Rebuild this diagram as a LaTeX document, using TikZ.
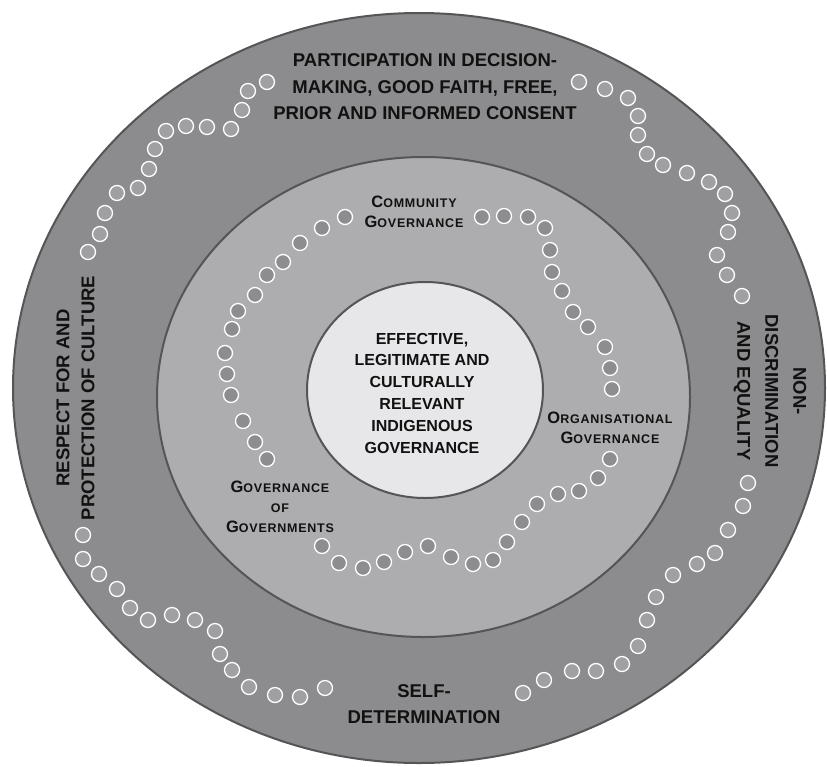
\documentclass[tikz,border=0pt]{standalone}
\usepackage{fontspec}
\setmainfont{Liberation Sans}
\definecolor{ringA}{HTML}{8C8C8E}
\definecolor{ringB}{HTML}{ADADAF}
\definecolor{ringC}{HTML}{E7E7E9}
\definecolor{rim}{HTML}{555557}
\definecolor{dotA}{HTML}{A0A0A2}
\definecolor{dotB}{HTML}{8D8D8F}
\definecolor{ink}{HTML}{111111}
\newcommand{\fsc}[2]{{\fontsize{16.5}{20}\selectfont #1}{\fontsize{12.5}{20}\selectfont #2}}
\newcommand{\fsmall}[1]{{\fontsize{12.5}{20}\selectfont #1}}
\tikzset{
  ring/.style={draw=rim, line width=2pt},
  dotouter/.style={draw=white, fill=dotA, line width=1.3pt},
  dotinner/.style={draw=white, fill=dotB, line width=1.3pt},
  bigtext/.style={align=center, inner sep=0pt, text=ink, font=\bfseries\fontsize{18.5}{26.5}\selectfont},
  midtext/.style={align=center, inner sep=0pt, text=ink, font=\bfseries\fontsize{16}{21.8}\selectfont},
  sctext/.style={align=center, inner sep=0pt, text=ink, font=\bfseries\addfontfeature{LetterSpace=6}\fontsize{16.5}{20}\selectfont},
}
\begin{document}
\begin{tikzpicture}[x=1pt,y=-1pt]
\useasboundingbox (0,0) rectangle (827,766);
% rings
\fill[white] (0,0) rectangle (827,766);
\draw[ring, fill=ringA] (419,388) ellipse [x radius=406pt, y radius=375pt];
\draw[ring, fill=ringB] (423.5,397) ellipse [x radius=266.5pt, y radius=240pt];
\draw[ring, fill=ringC] (425,390) ellipse [x radius=118pt, y radius=108pt];
% outer ring dots
\foreach \px/\py in {267/82,248/91,242/110,231/129,207/127,186/126,166/131,155/149,149/169,138/188,117/193,105/213,100/234,88/252,
  83/535,83/559,99/574,117/589,130/608,148/620,172/615,195/620,215/631,220/654,232/670,249/687,275/695,300/697,325/688,
  523/693,544/680,572/671,596/671,622/664,638/646,647/620,656/597,673/575,697/564,715/553,728/530,743/506,748/483,
  742/296,727/275,717/255,728/232,732/213,725/194,709/182,687/173,663/165,647/154,638/135,638/116,628/98,605/89,579/82}
  \draw[dotouter] (\px,\py) circle[radius=7.5pt];
% middle ring dots
\foreach \px/\py in {345/217,322/228,300/243,283/262,267/275,255/295,238/311,232/329,225/353,227/374,231/395,243/421,255/442,267/459,
  322/546,339/563,363/568,384/562,405/552,428/546,451/557,473/564,493/560,507/542,522/522,537/504,558/494,579/491,598/478,610/459,
  612/389,610/368,605/347,588/327,573/312,562/291,552/272,550/250,545/228,528/217,504/216,482/217}
  \draw[dotinner] (\px,\py) circle[radius=7.5pt];
% texts
\node[bigtext] (top) at (425,87) {PARTICIPATION IN DECISION-\\MAKING, GOOD FAITH, FREE,\\PRIOR AND INFORMED CONSENT};
\node[bigtext] (bottom) at (424,704) {SELF-\\DETERMINATION};
\node[bigtext, rotate=90, font=\bfseries\fontsize{18.5}{25}\selectfont] (left) at (75.5,398) {RESPECT FOR AND\\PROTECTION OF CULTURE};
\node[bigtext, rotate=-90, font=\bfseries\fontsize{18.5}{28}\selectfont] (right) at (770,391) {NON-\\DISCRIMINATION\\AND EQUALITY};
\node[midtext] (core) at (422,393) {EFFECTIVE,\\LEGITIMATE AND\\CULTURALLY\\RELEVANT\\INDIGENOUS\\GOVERNANCE};
\node[sctext] (community) at (414,212) {\fsc{C}{OMMUNITY}\\\fsc{G}{OVERNANCE}};
\node[sctext] (organisational) at (610,428) {\fsc{O}{RGANISATIONAL}\\\fsc{G}{OVERNANCE}};
\node[sctext] (governments) at (280,507) {\fsc{G}{OVERNANCE}\\\fsmall{OF}\\\fsc{G}{OVERNMENTS}};
\end{tikzpicture}
\end{document}
